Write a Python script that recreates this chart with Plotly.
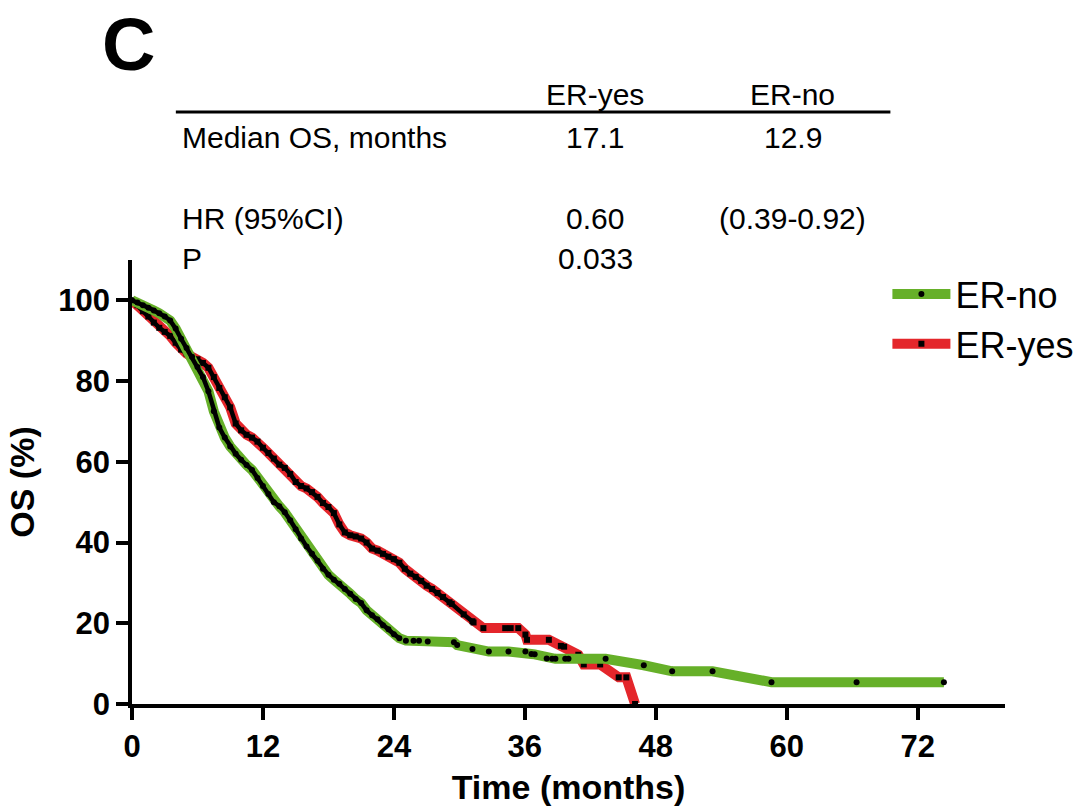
import plotly.graph_objects as go

# Kaplan-Meier overall survival by ER status (months, % surviving)
months_er_no = [0, 0.5, 1.0, 1.5, 2.0, 2.5, 3.0, 3.5, 4.0, 4.5, 5.0, 5.5, 6.0, 6.5,
                7.0, 7.5, 8.0, 8.5, 9.0, 9.5, 10.0, 10.5, 11.0, 11.5, 12.0, 12.5,
                13.0, 13.5, 14.0, 14.5, 15.0, 15.5, 16.0, 16.5, 17.0, 17.5, 18.0,
                18.5, 19.0, 19.5, 20.0, 20.5, 21.0, 21.5, 22.0, 22.5, 23.0, 23.5,
                24.0, 24.5, 25.1, 25.8, 26.3, 27.1, 29.5, 29.8, 31.2, 32.7, 34.5,
                36.05, 36.6, 36.9, 38.0, 38.5, 38.8, 39.7, 40.0, 43.4, 46.9, 49.5,
                53.2, 58.6, 66.4, 74.4]
os_er_no = [100, 99.5, 98.8, 98.2, 97.5, 96.8, 96.0, 95.0, 93.0, 90.5, 88.2, 86.0,
            83.5, 81.0, 77.5, 72.5, 68.5, 66.0, 63.8, 62.0, 60.5, 59.2, 58.0, 56.0,
            54.0, 52.0, 50.0, 49.0, 47.5, 45.5, 43.3, 41.0, 39.0, 37.2, 35.5, 33.5,
            32.0, 30.8, 29.8, 28.5, 27.3, 26.0, 25.0, 23.2, 22.0, 21.0, 19.5, 18.5,
            17.3, 16.3, 15.7, 15.7, 15.7, 15.5, 15.3, 14.6, 13.6, 13.0, 13.0, 13.0,
            12.4, 12.3, 11.3, 11.2, 11.2, 11.2, 11.2, 11.2, 9.6, 8.1, 8.1, 5.4, 5.4,
            5.4]

months_er_yes = [0, 0.5, 1.0, 1.5, 2.0, 2.5, 3.0, 3.5, 4.0, 4.5, 5.0, 5.5, 6.0, 6.5,
                 7.0, 7.5, 8.0, 8.5, 9.0, 9.5, 10.0, 10.5, 11.0, 11.5, 12.0, 12.5,
                 13.0, 13.5, 14.0, 14.5, 15.0, 15.5, 16.0, 16.5, 17.0, 17.5, 18.0,
                 18.5, 19.0, 19.5, 20.0, 20.5, 21.0, 21.5, 22.0, 22.5, 23.0, 23.5,
                 24.0, 24.5, 25.0, 25.5, 26.0, 26.5, 27.0, 27.5, 28.0, 28.5, 29.1,
                 29.3, 30.4, 31.2, 31.3, 32.2, 34.2, 34.7, 35.4, 36.05, 36.2, 38.2,
                 39.3, 39.6, 40.9, 41.4, 42.9, 44.6, 45.3, 46.1]
os_er_yes = [100, 98.8, 97.3, 96.0, 94.5, 93.2, 92.2, 91.2, 89.5, 87.8, 86.8, 86.0,
             85.4, 84.5, 83.3, 81.0, 78.3, 76.0, 73.5, 69.5, 67.8, 66.7, 66.0, 65.0,
             63.5, 62.2, 60.8, 59.3, 58.5, 57.0, 55.0, 54.0, 53.4, 52.5, 51.3, 49.8,
             48.8, 47.3, 44.5, 42.5, 41.8, 41.5, 41.0, 40.0, 38.5, 38.0, 37.2, 36.5,
             35.9, 35.0, 33.5, 32.3, 31.5, 30.5, 29.3, 28.5, 27.5, 26.5, 25.2, 24.8,
             22.2, 20.5, 20.2, 18.8, 18.8, 18.8, 18.8, 17.2, 15.9, 15.9, 14.4, 14.2,
             12.2, 9.8, 9.8, 6.6, 6.6, 0]

# Up to these times the censor marks sit so close together that they merge
dense_until_er_no = 24.5
dense_until_er_yes = 31.3

x_ticks = [0, 12, 24, 36, 48, 60, 72]
y_ticks = [0, 20, 40, 60, 80, 100]

# Summary table above the plot
table_columns = ["ER-yes", "ER-no"]
table_rows = ["Median OS, months", "HR (95%CI)", "P"]
table_values = [["17.1", "12.9"], ["0.60", "(0.39-0.92)"], ["0.033", ""]]

GREEN = "#66b029"
RED = "#e4262b"
FONT = "Liberation Sans, Arial, sans-serif"


def survival_traces(months, os_pct, name, color, symbol, msize, dense_until):
    dense_x = [m for m in months if m <= dense_until]
    dense_y = os_pct[:len(dense_x)]
    band = go.Scatter(
        x=months, y=os_pct, name=name, mode="lines+markers",
        line=dict(color=color, width=10),
        marker=dict(symbol=symbol, size=msize, color="black"),
        cliponaxis=False,
    )
    core = go.Scatter(
        x=dense_x, y=dense_y, mode="lines", showlegend=False, hoverinfo="skip",
        line=dict(color="black", width=4.5),
    )
    return [band, core]


fig = go.Figure()
for tr in survival_traces(months_er_yes, os_er_yes, "ER-yes", RED, "square", 6,
                          dense_until_er_yes):
    fig.add_trace(tr)
for tr in survival_traces(months_er_no, os_er_no, "ER-no", GREEN, "circle", 6,
                          dense_until_er_no):
    fig.add_trace(tr)

# Plot area spans 132..1008 px horizontally and 260..704 px vertically
L, R, T, B = 132, 83, 260, 102
W, H = 1091, 806
pw, ph = W - L - R, H - T - B


def px(xp):
    return (xp - L) / pw


def py(yp):
    return (H - B - yp) / ph


annotations = [dict(text="<b>C</b>", x=px(128), y=py(1), xref="paper", yref="paper",
                    showarrow=False, xanchor="center", yanchor="top",
                    font=dict(size=74, family=FONT, color="black"))]

col_x = [597, 795]
row_y = [137, 219, 259]
for cx, label in zip(col_x, table_columns):
    annotations.append(dict(text=label, x=px(cx), y=py(95), xref="paper", yref="paper",
                            showarrow=False, xanchor="center", yanchor="middle",
                            font=dict(size=30, family=FONT, color="black")))
for ry, label, vals in zip(row_y, table_rows, table_values):
    annotations.append(dict(text=label, x=px(180), y=py(ry), xref="paper", yref="paper",
                            showarrow=False, xanchor="left", yanchor="middle",
                            font=dict(size=30, family=FONT, color="black")))
    for cx, v in zip(col_x, vals):
        if v:
            annotations.append(dict(text=v, x=px(cx), y=py(ry), xref="paper", yref="paper",
                                    showarrow=False, xanchor="center", yanchor="middle",
                                    font=dict(size=30, family=FONT, color="black")))

shapes = [dict(type="line", xref="paper", yref="paper", x0=px(176), x1=px(893),
               y0=py(112), y1=py(112), line=dict(color="black", width=3))]

fig.update_layout(
    width=W, height=H,
    margin=dict(l=L, r=R, t=T, b=B, pad=0),
    paper_bgcolor="white", plot_bgcolor="white",
    font=dict(family=FONT, color="black"),
    annotations=annotations, shapes=shapes,
    legend=dict(x=px(890), y=py(264), xanchor="left", yanchor="top",
                traceorder="reversed", itemwidth=58,
                font=dict(size=36, family=FONT),
                bgcolor="rgba(0,0,0,0)"),
    xaxis=dict(range=[0, 80], tickvals=x_ticks, ticks="outside", ticklen=12,
               tickwidth=3.5, tickcolor="black", showline=True, linewidth=3.5,
               linecolor="black", showgrid=False, zeroline=False, automargin=False,
               tickfont=dict(size=31, family=FONT, weight="bold"),
               title=dict(text="<b>Time (months)</b>", font=dict(size=34), standoff=14)),
    yaxis=dict(range=[0, 110], tickvals=y_ticks, ticks="outside", ticklen=12,
               tickwidth=3.5, tickcolor="black", showline=True, linewidth=3.5,
               linecolor="black", showgrid=False, zeroline=False, automargin=False,
               tickfont=dict(size=31, family=FONT, weight="bold"),
               title=dict(text="<b>OS (%)</b>", font=dict(size=34), standoff=14)),
)

fig.write_html("out.html")
